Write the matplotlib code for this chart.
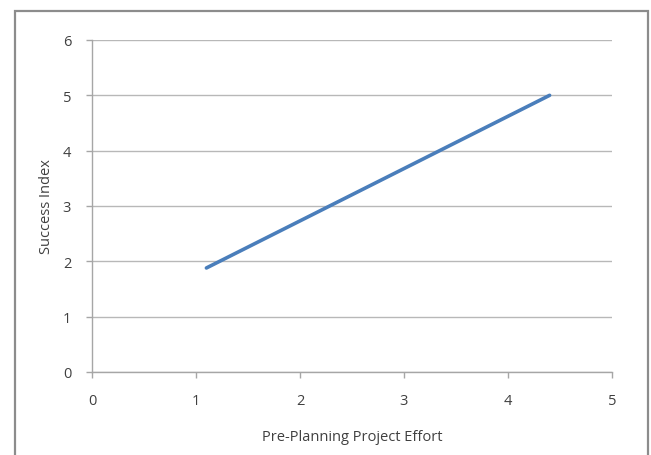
import matplotlib.pyplot as plt
from matplotlib.patches import Rectangle

# --- Data ---
effort = [1.1, 4.4]
success = [1.88, 5.0]
x_ticks = [0, 1, 2, 3, 4, 5]
y_ticks = [0, 1, 2, 3, 4, 5, 6]

plt.rcParams['font.family'] = ['Open Sans', 'DejaVu Sans']

fig = plt.figure(figsize=(6.51, 4.56), dpi=100)
ax = fig.add_axes([92 / 651, 1 - 373 / 456, (612 - 92) / 651, (373 - 41) / 456])

# Outer chart border
fig.patches.append(Rectangle((15 / 651, -0.05), (648 - 15) / 651, 1.05 - 12 / 456,
                             transform=fig.transFigure, fill=False,
                             edgecolor='#8c8c8c', linewidth=1.6))

ax.plot(effort, success, color='#4a7ebb', linewidth=2.6, solid_capstyle='round')

ax.set_xlim(0, 5)
ax.set_ylim(0, 6)
ax.set_xticks(x_ticks)
ax.set_yticks(y_ticks)
ax.grid(axis='y', color='#b8b8b8', linewidth=1.0)
ax.set_axisbelow(True)

for side in ['top', 'right']:
    ax.spines[side].set_visible(False)
for side in ['left', 'bottom']:
    ax.spines[side].set_color('#a6a6a6')
    ax.spines[side].set_linewidth(1.0)

ax.tick_params(axis='both', colors='#a6a6a6', labelcolor='#404040',
               labelsize=10.5, length=4, width=1.0, pad=11)

ax.set_xlabel('Pre-Planning Project Effort', fontsize=10.5, color='#404040', labelpad=15)
ax.set_ylabel('Success Index', fontsize=10.5, color='#404040', labelpad=6)

plt.savefig('out.png', dpi=100)
